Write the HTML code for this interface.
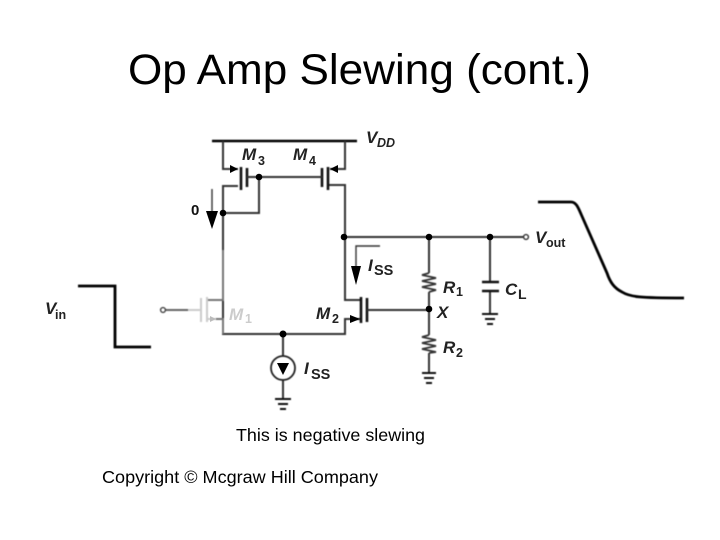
<!DOCTYPE html>
<html><head><meta charset="utf-8"><title>Op Amp Slewing (cont.)</title>
<style>
html,body{margin:0;padding:0;background:#fff;width:720px;height:540px;overflow:hidden}
svg{display:block;position:absolute;left:0;top:0}
text{font-family:"Liberation Sans",sans-serif;fill:#000}
.l{font-weight:bold;font-style:italic;font-size:17px;fill:#222}
.s{font-weight:bold;font-size:12.5px;fill:#222}
</style></head><body>
<svg width="720" height="540" viewBox="0 0 720 540">
<g style="filter:blur(.5px)" fill="none" stroke="#333" stroke-width="2">
 <!-- VDD -->
 <path d="M212 141H357" stroke="#000" stroke-width="2.6"/>
 <!-- M3 -->
 <path d="M223 141V169H238M238 186H223V334H345V319H360M345 141V169H330M328 185H345V300H360"/>
 <path d="M241 167V190M328 167V190M361 297V323" stroke="#111" stroke-width="2.6"/>
 <path d="M247 168V187M322 168V187M367 298V322" stroke="#111" stroke-width="2.6"/>
 <path d="M247 177H322M259 177V213H223"/>
 <path d="M344 237H523M367 310H429M429 237V273M429 292V335M429 353V373M490 237V282M490 291V314M283 334V356M283 380V399"/>
 <circle cx="526" cy="237" r="2.4" stroke-width="1.4"/>
 <!-- resistors -->
 <path d="M429 273L422 275L436 278L422 281L436 284L422 287L436 290L429 292" stroke-width="1.7"/>
 <path d="M429 335L422 337L436 340L422 343L436 346L422 349L436 352L429 353" stroke-width="1.7"/>
 <!-- cap -->
 <path d="M482 282H499M482 291H499" stroke="#111" stroke-width="2.4"/>
 <!-- grounds -->
 <path d="M422 373H436M424 378H434M426 383H432M482 314H498M485 319H495M487 324H493M275 399H291M278 404H288M280 409H286" stroke="#111" stroke-width="2"/>
 <!-- current source -->
 <circle cx="283" cy="368" r="12" stroke="#222" stroke-width="1.8"/>
 <!-- Iss arrow line -->
 <path d="M380 246H356V270M212 189V212" stroke-width="1.4"/>
 <!-- M1 gray -->
 <path d="M223 250V300H208M208 319H223V334" stroke="#777"/>
 <path d="M166 310H188" stroke="#666"/>
 <path d="M188 310H201M207 297V322M201 298V322M208 319H216" stroke="#ccc" stroke-width="2"/>
 <circle cx="163" cy="310" r="2.4" stroke="#444" stroke-width="1.4"/>
 <!-- waveforms -->
 <path d="M78 286H115V347H151" stroke="#000" stroke-width="2.8"/>
 <path d="M538 202H571C576 202 578 207 581 214L607 273C610 282 614 288 622 292C630 297 640 298 684 298" stroke="#000" stroke-width="2.8"/>
</g>
<g style="filter:blur(.35px)" fill="#000">
 <circle cx="259" cy="177" r="3.3"/><circle cx="223" cy="213" r="3.3"/><circle cx="344" cy="237" r="3.3"/>
 <circle cx="429" cy="237" r="3.3"/><circle cx="490" cy="237" r="3.3"/><circle cx="429" cy="309" r="3.3"/><circle cx="283" cy="334" r="3.5"/>
 <path d="M238 169L230 165V173ZM330 169L338 165V173ZM360 319L350 315V323Z"/>
 <path d="M206 211H218L212 229ZM351 266H361L356 285ZM277 363H289L283 375Z"/>
 <path d="M216 319L210 316V322Z" fill="#bbb"/>
</g>
<g style="filter:blur(.35px)">
 <text class="l" x="366" y="143">V</text><text class="s" x="377" y="147" style="font-style:italic">DD</text>
 <text class="l" x="242" y="160">M</text><text class="s" x="258" y="165">3</text>
 <text class="l" x="293" y="160">M</text><text class="s" x="309" y="165">4</text>
 <text x="191" y="215" style="font-weight:bold;font-size:15px;fill:#111">0</text>
 <text class="l" x="535" y="243">V</text><text class="s" x="546" y="247">out</text>
 <text class="l" x="45" y="314">V</text><text class="s" x="55" y="319">in</text>
 <text class="l" x="229" y="320" style="fill:#ccc">M</text><text class="s" x="245" y="323" style="fill:#ccc">1</text>
 <text class="l" x="316" y="319">M</text><text class="s" x="332" y="323">2</text>
 <text class="l" x="368" y="271">I</text><text class="s" x="374" y="275" style="font-size:14.5px">SS</text>
 <text class="l" x="304" y="374">I</text><text class="s" x="311" y="379" style="font-size:14.5px">SS</text>
 <text class="l" x="443" y="293">R</text><text class="s" x="456" y="296">1</text>
 <text class="l" x="443" y="353">R</text><text class="s" x="456" y="357">2</text>
 <text class="l" x="505" y="295">C</text><text class="s" x="518" y="299" style="font-size:14px">L</text>
 <text class="l" x="437" y="318">X</text>
</g>
<text x="128" y="84" textLength="463" lengthAdjust="spacingAndGlyphs" style="font-size:43px;fill:#000">Op Amp Slewing (cont.)</text>
<text x="236" y="441" textLength="189" lengthAdjust="spacingAndGlyphs" style="font-size:17.5px;fill:#000">This is negative slewing</text>
<text x="102" y="483" textLength="276" lengthAdjust="spacingAndGlyphs" style="font-size:17.5px;fill:#000">Copyright © Mcgraw Hill Company</text>
</svg>
</body></html>
